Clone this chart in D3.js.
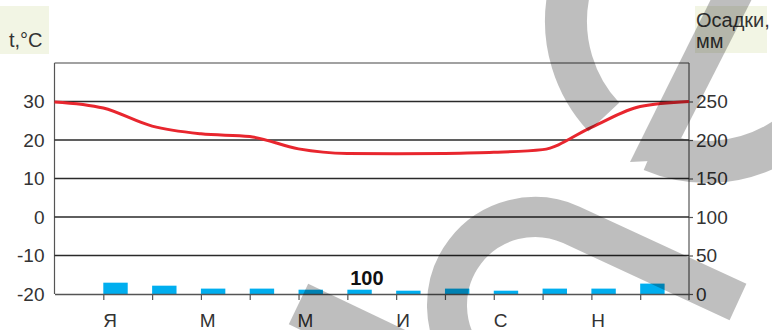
<!DOCTYPE html>
<html><head><meta charset="utf-8">
<script src="https://cdn.jsdelivr.net/npm/d3@7"></script>
<style>
html,body{margin:0;padding:0;background:#fff;}
svg{display:block;font-family:"Liberation Sans",Arial,sans-serif;}
</style></head>
<body><svg id="c" width="772" height="330"></svg>
<script>
// ---- data ----
const months = ["Я","Ф","М","А","М","И","И","А","С","О","Н","Д"];
const monthLabelIdx = [0,2,4,6,8,10];
const precip = [14.7,10.8,7.0,7.0,5.6,5.6,4.3,7.0,4.3,7.0,7.0,13.5];
// temperature read at each slot boundary (0..13)
const tempPos = [0,1,2,3,4,5,6,7,8,9,10,11,12,13];
const temps = [29.9,28.3,23.6,21.6,20.9,17.7,16.5,16.4,16.5,16.8,17.5,23.3,28.7,30.0];
const tempTicks = [30,20,10,0,-10,-20];
const precipTicks = [250,200,150,100,50,0];
const totalLabel = "100";

const svg = d3.select("#c");
const L = 54.5, R = 689, T = 63, B = 294;
const x = d3.scaleLinear().domain([0,13]).range([L,R]);
const yT = d3.scaleLinear().domain([-20,40]).range([B,T]);
const yP = d3.scaleLinear().domain([0,300]).range([B,T]);
const txt = "#333";

// label boxes
svg.append("rect").attr("x",0).attr("y",6).attr("width",49).attr("height",48).attr("fill","#f2f5e4");
svg.append("text").attr("x",9).attr("y",47).attr("font-size",20).attr("fill",txt).text("t,°C");
svg.append("rect").attr("x",695).attr("y",6).attr("width",72).attr("height",47).attr("fill","#f2f5e4");
svg.append("text").attr("x",696).attr("y",27).attr("font-size",20).attr("fill",txt).text("Осадки,");
svg.append("text").attr("x",696).attr("y",48).attr("font-size",20).attr("fill",txt).text("мм");

// frame
svg.append("line").attr("x1",L).attr("x2",R).attr("y1",yT(40)).attr("y2",yT(40)).attr("stroke","#444").attr("stroke-width",1.2);
svg.append("line").attr("x1",L).attr("x2",L).attr("y1",yT(40)).attr("y2",B).attr("stroke","#555").attr("stroke-width",1.2);
svg.append("line").attr("x1",R).attr("x2",R).attr("y1",yT(40)).attr("y2",B+6).attr("stroke","#555").attr("stroke-width",1.2);

// gridlines
svg.append("g").selectAll("line").data(tempTicks.filter(d=>d>-20)).join("line")
  .attr("x1",L).attr("x2",R).attr("y1",d=>yT(d)).attr("y2",d=>yT(d))
  .attr("stroke","#2a2a2a").attr("stroke-width",1.6);

// left axis labels
const ga = svg.append("g").attr("transform",`translate(${L},0)`)
  .call(d3.axisLeft(yT).tickValues(tempTicks).tickSize(0).tickPadding(10).tickFormat(d=>String(d)));
ga.select(".domain").remove();
ga.selectAll("text").attr("font-size",19).attr("fill",txt).attr("font-family","Liberation Sans,Arial,sans-serif");

// right axis
const gr = svg.append("g").attr("transform",`translate(${R},0)`)
  .call(d3.axisRight(yP).tickValues(precipTicks).tickSize(4).tickPadding(3).tickFormat(d=>String(d)));
gr.select(".domain").remove();
gr.selectAll("line").attr("stroke","#555").attr("stroke-width",1.2);
gr.selectAll("text").attr("font-size",19).attr("fill",txt).attr("font-family","Liberation Sans,Arial,sans-serif");

// bars
svg.append("g").selectAll("rect").data(precip).join("rect")
  .attr("x",(d,i)=>x(i+1)).attr("width",(d,i)=>x(i+1.5)-x(i+1))
  .attr("y",d=>yP(d)).attr("height",d=>yP(0)-yP(d)).attr("fill","#00aeef");

// bottom axis
const gb = svg.append("g").attr("transform",`translate(0,${B})`)
  .call(d3.axisBottom(x).tickValues(d3.range(1,13)).tickSize(6).tickSizeOuter(0).tickFormat(""));
gb.select(".domain").attr("stroke","#555").attr("stroke-width",1.4);
gb.selectAll(".tick line").attr("stroke","#555").attr("stroke-width",1.2);

svg.append("g").selectAll("text").data(monthLabelIdx).join("text")
  .attr("x",i=>x(i+1.14)).attr("y",326.5).attr("text-anchor","middle")
  .attr("font-size",19).attr("fill",txt).text(i=>months[i]);

// total label
svg.append("text").attr("x",x(6.4)).attr("y",284.5).attr("text-anchor","middle")
  .attr("font-size",20).attr("font-weight","bold").attr("fill","#111").text(totalLabel);

// temperature line
const line = d3.line().x((d,i)=>x(tempPos[i])).y(d=>yT(d)).curve(d3.curveMonotoneX);
svg.append("path").datum(temps).attr("d",line).attr("fill","none")
  .attr("stroke","#e8262e").attr("stroke-width",3);

// watermark overlay
const wm = svg.append("g").attr("opacity",0.25);
const rad = a=>a*Math.PI/180;
const p1 = d3.path(); p1.arc(707,21,141,rad(137),rad(473));
wm.append("path").attr("d",p1.toString()).attr("fill","none").attr("stroke","#000").attr("stroke-width",42);
wm.append("polygon").attr("points","630,162 670,160 754,-5 713,-5").attr("fill","#000");
const p2 = d3.path(); p2.arc(535,305,88,rad(140),rad(294.4)); p2.lineTo(738,302);
wm.append("path").attr("d",p2.toString()).attr("fill","none").attr("stroke","#000").attr("stroke-width",40);
const p3 = d3.path(); p3.moveTo(298.5,304); p3.lineTo(420,362);
wm.append("path").attr("d",p3.toString()).attr("fill","none").attr("stroke","#000").attr("stroke-width",45);
</script>
</body></html>
